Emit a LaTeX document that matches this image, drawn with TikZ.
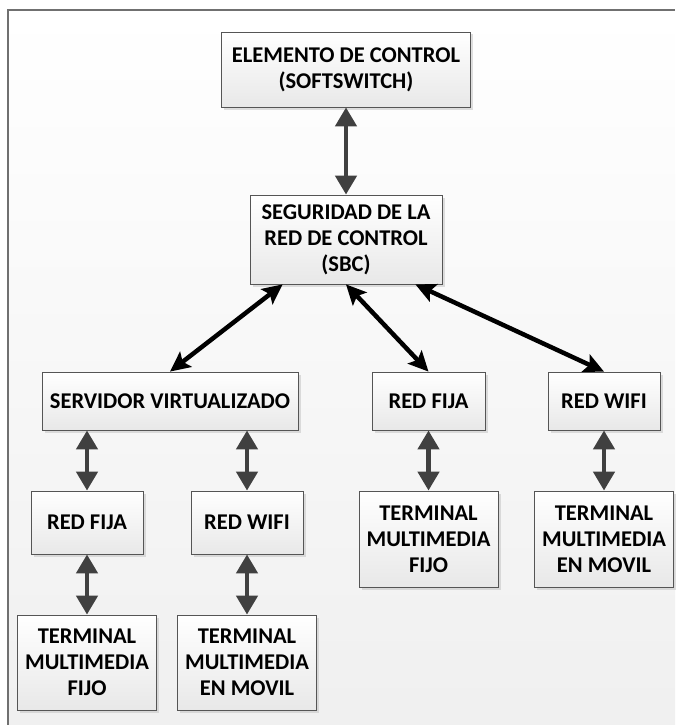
\documentclass[tikz,border=0pt]{standalone}
\usepackage{fontspec}
\setmainfont{Carlito}
\usepackage{tikz}
\usetikzlibrary{arrows.meta}
\usetikzlibrary{shadows}
\definecolor{framegray}{HTML}{707070}
\definecolor{arrowgray}{HTML}{404040}
\definecolor{boxgray}{HTML}{555555}
\tikzset{
	boxstyle/.style={rectangle,draw=boxgray,line width=0.8pt,top color=white,bottom color=black!9,drop shadow={shadow xshift=2.5pt,shadow yshift=-2.5pt,fill=black!25,opacity=0.5},align=center,inner sep=0pt,font=\fontsize{22.5}{26}\selectfont\bfseries},
	graystyle/.style={draw=arrowgray,line width=4.5pt,{Triangle[width=21pt,length=19pt]}-{Triangle[width=21pt,length=19pt]}},
	blackstyle/.style={draw=black,line width=4.5pt,{Stealth[width=19pt,length=20pt,inset=4pt]}-{Stealth[width=19pt,length=20pt,inset=4pt]}}
}

\begin{document}
\begin{tikzpicture}[x=1pt,y=-1pt]
	\useasboundingbox (0,0) rectangle (675,725);
	\shade[top color=white,bottom color=black!6] (8,10) rectangle (675,725);
	\draw[framegray,line width=1.5pt] (8,725)--(8,10)--(675,10);
	\node[boxstyle,minimum width=249pt,minimum height=75pt] (top) at (346,69.5) {ELEMENTO DE CONTROL\\(SOFTSWITCH)};
	\node[boxstyle,minimum width=192pt,minimum height=89pt] (sbc) at (346,239.5) {SEGURIDAD DE LA\\RED DE CONTROL\\(SBC)};
	\node[boxstyle,minimum width=256pt,minimum height=58pt] (serv) at (170,401) {SERVIDOR VIRTUALIZADO};
	\node[boxstyle,minimum width=113pt,minimum height=58pt] (fija1) at (428.5,401) {RED FIJA};
	\node[boxstyle,minimum width=112pt,minimum height=58pt] (wifi1) at (604,401) {RED WIFI};
	\node[boxstyle,minimum width=112pt,minimum height=63pt] (fija2) at (87,522.5) {RED FIJA};
	\node[boxstyle,minimum width=112pt,minimum height=63pt] (wifi2) at (247,522.5) {RED WIFI};
	\node[boxstyle,minimum width=139pt,minimum height=96pt] (term1) at (428.5,539) {TERMINAL\\MULTIMEDIA\\FIJO};
	\node[boxstyle,minimum width=139pt,minimum height=96pt] (term2) at (604,539) {TERMINAL\\MULTIMEDIA\\EN MOVIL};
	\node[boxstyle,minimum width=139pt,minimum height=95pt] (term3) at (87,662.5) {TERMINAL\\MULTIMEDIA\\FIJO};
	\node[boxstyle,minimum width=139pt,minimum height=95pt] (term4) at (247,662.5) {TERMINAL\\MULTIMEDIA\\EN MOVIL};
	\draw[graystyle] (top)--(sbc);
	\draw[blackstyle] ([xshift=33pt]sbc.south west)--(serv.north);
	\draw[blackstyle] (sbc.south)--(fija1.north);
	\draw[blackstyle] ([xshift=-27pt]sbc.south east)--(wifi1.north);
	\draw[graystyle] (fija2|-serv.south)--(fija2.north);
	\draw[graystyle] (wifi2|-serv.south)--(wifi2.north);
	\draw[graystyle] (fija1)--(term1);
	\draw[graystyle] (wifi1)--(term2);
	\draw[graystyle] (fija2)--(term3);
	\draw[graystyle] (wifi2)--(term4);
\end{tikzpicture}
\end{document}
